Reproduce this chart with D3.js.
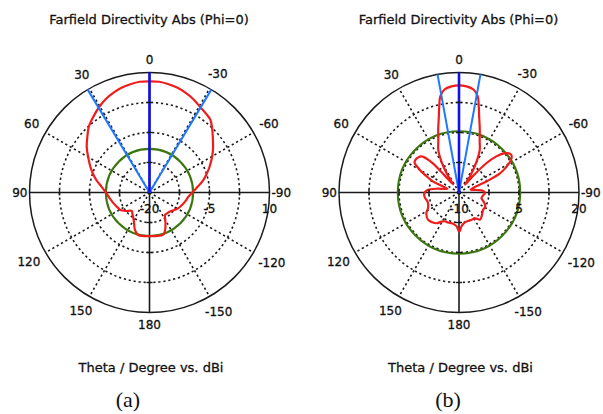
<!DOCTYPE html>
<html>
<head>
<meta charset="utf-8">
<script src="https://cdn.jsdelivr.net/npm/d3@7"></script>
<style>
  html, body { margin: 0; padding: 0; background: #fff; }
  svg { display: block; }
  text { font-family: "DejaVu Sans", sans-serif; fill: #111; }
  text.sans { stroke: #111; stroke-width: 0.3px; }
</style>
</head>
<body>
<svg id="chart" width="603" height="414"></svg>
<script>
// ---- data -------------------------------------------------------------
const thetaTicks = [0, 30, 60, 90, 120, 150, 180, -150, -120, -90, -60, -30];

// Pattern (a): theta (deg) and directivity (dBi)
const thetaA = [0, 5, 10, 15, 20, 25, 30, 37, 43, 48, 54, 60, 67, 72, 77, 83, 90, 100, 105, 112, 117, 121, 128, 136, 140, 148, 153, 159, 165, 172, 180,
                -172, -162, -157.5, -152, -145, -140, -133, -125, -119, -111, -104, -97, -91, -85, -77, -72, -67, -60, -55, -50, -45, -40, -36, -31, -25, -20, -15, -10, -5];
const dbiA   = [7.8, 7.8, 7.5, 7.1, 6.5, 5.8, 4.9, 3.5, 2.3, 0.9, -0.6, -2.3, -4, -5.2, -6.4, -7.9, -9.1, -10.1, -10.5, -11, -11.3, -11.5, -12.5, -13.6, -13.3, -12.4, -11.5, -9.9, -9, -9, -9.1,
                -9, -8.9, -9.8, -11.5, -13.2, -13.2, -13, -12.4, -11.8, -11.3, -10.8, -10.3, -9.5, -8.3, -6.2, -5, -3.7, -1.9, -0.6, 0.7, 2.2, 3.7, 4.2, 4.8, 5.8, 6.5, 7.1, 7.5, 7.8];

// Pattern (b): theta (deg) and directivity (dBi)
const thetaB = [0, 4, 8, 11, 13, 15, 18, 22, 26, 30, 33, 36, 40, 42, 46, 50, 53, 56, 60, 64, 67, 72, 76, 80, 86, 92, 99, 105, 112, 117, 122, 131, 138, 144, 149, 154, 160, 167, 172, 176, 180,
                -179, -176, -170, -165, -156, -148, -142, -134, -125, -120, -115, -110, -104, -98, -91, -86, -82, -76, -72, -68, -65, -62, -59, -56, -54, -52, -49, -46, -43, -40, -37, -34, -30, -26, -22, -18, -15, -13, -11, -8, -4];
const dbiB   = [16.8, 16.6, 16, 14.5, 12, 9.5, 6.8, 3.8, 1.8, -1.5, -4.5, -7.5, -5, 0, 3, 3.5, 3.6, 3.4, 1.3, -1.3, -3, -7, -6.3, -4.5, -2, -1.3, -1.4, -1.8, -1.7, -1.3, -0.4, 0.3, 0, -0.5, -1.5, -2, -2, -2.1, -1.9, -1.5, -0.3,
                -0.3, -1.5, -2.3, -2.5, -2.5, -2.4, -1.4, -2, -2.6, -2.5, -2.8, -3.5, -4.2, -4, -3.5, -4, -5.5, -7, -6.3, -2.5, 1.3, 3.2, 4.9, 5.9, 6.1, 5.9, 4.9, 3, 0, -5, -7.5, -5, -1.5, 1.8, 3.8, 6.8, 9.5, 12, 14.5, 16, 16.6];

// Radial (dBi) axis: domain, grid circles and labelled levels
const rangeA = [-20, 10];
const gridA = [-12.5, -5, 2.5];
const rangeLabelsA = [-20, -5, 10];
const rangeB = [-10, 20];
const gridB = [-2.5, 5, 12.5];
const rangeLabelsB = [-10, 5, 20];

// Main lobe direction, 3 dB beam edges and side lobe level
const mainLobeA = 0;
const beamEdgesA = [31, -31];
const sideLobeA = -9.1;
const mainLobeB = 0;
const beamEdgesB = [10.3, -10.3];
const sideLobeB = 5.3;

const titleText = "Farfield Directivity Abs (Phi=0)";
const axisText = "Theta / Degree vs. dBi";
const captions = ["(a)", "(b)"];

// ---- layout -------------------------------------------------------------
const R = 120;
const panels = [
  { cx: 149.5, cy: 192.5, capX: 128, theta: thetaA, dbi: dbiA, range: rangeA, grid: gridA,
    labels: rangeLabelsA, main: mainLobeA, edges: beamEdgesA, side: sideLobeA, caption: captions[0] },
  { cx: 459, cy: 192.5, capX: 448, theta: thetaB, dbi: dbiB, range: rangeB, grid: gridB,
    labels: rangeLabelsB, main: mainLobeB, edges: beamEdgesB, side: sideLobeB, caption: captions[1] }
];

const svg = d3.select("#chart");
const C = {
  red: "#f01c1c", green: "#3b760f", blue: "#1010e8", lightBlue: "#1f78ff", ink: "#1a1a1a"
};

function drawPanel(p) {
  const g = svg.append("g").attr("transform", `translate(${p.cx},${p.cy})`);
  const r = d3.scaleLinear().domain(p.range).range([0, R]).clamp(true);
  // theta grows counter-clockwise from the top of the plot
  const ang = d3.scaleLinear().domain([0, 360]).range([0, -2 * Math.PI]);
  const pt = (th, rad) => [Math.sin(ang(th)) * rad, -Math.cos(ang(th)) * rad];

  // dotted grid circles
  g.append("g").selectAll("circle").data(p.grid).join("circle")
    .attr("r", d => r(d)).attr("fill", "none")
    .attr("stroke", C.ink).attr("stroke-width", 1.6).attr("stroke-dasharray", "2.2,2.8");

  // dotted spokes every 30 degrees (off-axis)
  g.append("g").selectAll("line").data(thetaTicks.filter(t => t % 90 !== 0)).join("line")
    .attr("x1", 0).attr("y1", 0)
    .attr("x2", d => pt(d, R)[0]).attr("y2", d => pt(d, R)[1])
    .attr("stroke", C.ink).attr("stroke-width", 1.6).attr("stroke-dasharray", "2.2,2.8");

  // outer rim
  g.append("circle").attr("r", r(p.range[1])).attr("fill", "none")
    .attr("stroke", C.ink).attr("stroke-width", 1.5);

  // solid axes: 90..-90 and 0..180
  const axisLines = [[90, -90], [0, 180]];
  g.append("g").selectAll("line").data(axisLines).join("line")
    .attr("x1", d => pt(d[0], R)[0]).attr("y1", d => pt(d[0], R)[1])
    .attr("x2", d => pt(d[1], R)[0]).attr("y2", d => pt(d[1], R)[1])
    .attr("stroke", C.ink).attr("stroke-width", 1.6);

  // side lobe level circle
  g.append("circle").attr("r", r(p.side)).attr("fill", "none")
    .attr("stroke", C.green).attr("stroke-width", 2.1);

  // directivity pattern
  const rows = p.theta.map((t, i) => ({ t, v: p.dbi[i] })).sort((a, b) => a.t - b.t);
  const line = d3.lineRadial().angle(d => ang(d.t)).radius(d => r(d.v))
    .curve(d3.curveCatmullRomClosed.alpha(0.5));
  g.append("path").attr("d", line(rows)).attr("fill", "none")
    .attr("stroke", C.red).attr("stroke-width", 2.2).attr("stroke-linejoin", "round");

  // 3 dB beam edges and main lobe direction
  g.append("g").selectAll("line").data(p.edges).join("line")
    .attr("x1", 0).attr("y1", 0)
    .attr("x2", d => pt(d, R)[0]).attr("y2", d => pt(d, R)[1])
    .attr("stroke", C.lightBlue).attr("stroke-width", 2);
  g.append("line").attr("x1", 0).attr("y1", 0)
    .attr("x2", pt(p.main, R)[0]).attr("y2", pt(p.main, R)[1])
    .attr("stroke", C.blue).attr("stroke-width", 2.6);

  // small tick marks on the axes at each grid level
  const tickRows = [];
  [90, -90, 0, 180].forEach(t => p.grid.forEach(v => tickRows.push({ t, v })));
  g.append("g").selectAll("line").data(tickRows).join("line")
    .each(function (d) {
      const [x, y] = pt(d.t, r(d.v));
      const horiz = Math.abs(d.t) === 90;
      d3.select(this)
        .attr("x1", horiz ? x : x - 3).attr("x2", horiz ? x : x + 3)
        .attr("y1", horiz ? y - 3 : y).attr("y2", horiz ? y + 3 : y);
    })
    .attr("stroke", C.ink).attr("stroke-width", 1.4);

  // theta labels, kept a small gap outside the rim
  g.append("g").selectAll("text").data(thetaTicks).join("text")
    .attr("class", "sans")
    .attr("font-size", 12).attr("text-anchor", "middle").attr("dominant-baseline", "central")
    .text(d => d)
    .each(function (d) {
      const b = this.getBBox();
      const a = ang(d);
      const gap = Math.abs(d) === 90 ? 2 : 6.5;
      const rad = R + gap + Math.abs(Math.sin(a)) * b.width / 2 + Math.abs(Math.cos(a)) * b.height / 2.4;
      const [x, y] = pt(d, rad);
      d3.select(this).attr("x", x).attr("y", y);
    });

  // dBi labels under the horizontal axis
  g.append("g").selectAll("text").data(p.labels).join("text")
    .attr("class", "sans")
    .attr("font-size", 12).attr("text-anchor", "middle").attr("dominant-baseline", "central")
    .attr("x", d => pt(-90, r(d))[0]).attr("y", 16.5)
    .text(d => d);

  // titles
  svg.append("text").attr("class", "sans").attr("x", p.cx - 0.5).attr("y", 24).attr("text-anchor", "middle")
    .attr("font-size", 13).text(titleText);
  svg.append("text").attr("class", "sans").attr("x", p.cx + 1.5).attr("y", 372).attr("text-anchor", "middle")
    .attr("font-size", 13).text(axisText);
  svg.append("text").attr("x", p.capX).attr("y", 407).attr("text-anchor", "middle")
    .style("font-family", '"Liberation Serif", serif').attr("font-size", 22).text(p.caption);
}

panels.forEach(drawPanel);
</script>
</body>
</html>
